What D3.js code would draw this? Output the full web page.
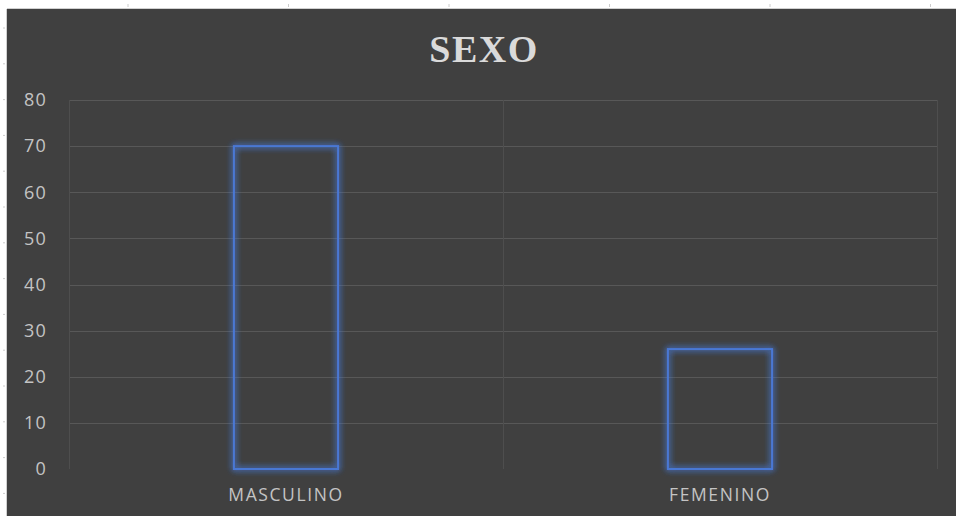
<!DOCTYPE html>
<html>
<head>
<meta charset="utf-8">
<script src="https://cdn.jsdelivr.net/npm/d3@7"></script>
<style>
  body { margin: 0; background: #ffffff; }
  svg { display: block; }
</style>
</head>
<body>
<div id="chart"></div>
<script>
let categories = ["MASCULINO", "FEMENINO"];
let values = [70, 26];
let yTicks = [0, 10, 20, 30, 40, 50, 60, 70, 80];
let title = "SEXO";

let W = 956, H = 516;
let margin = {top: 100, right: 19, bottom: 47, left: 69};
let width = W - margin.left - margin.right,
    height = H - margin.top - margin.bottom;

let svg = d3.select("#chart").append("svg")
    .attr("width", W)
    .attr("height", H);

// spreadsheet strip round the chart
svg.append("rect").attr("width", W).attr("height", H).attr("fill", "#ffffff");
svg.append("rect")
    .attr("x", 7).attr("y", 9)
    .attr("width", W - 7).attr("height", H - 9)
    .attr("fill", "#404040");
svg.append("line").attr("x1", 7).attr("x2", W).attr("y1", 8.5).attr("y2", 8.5)
    .style("stroke", "#d0d0d0");
svg.append("line").attr("x1", 6.5).attr("x2", 6.5).attr("y1", 9).attr("y2", H)
    .style("stroke", "#d0d0d0");
d3.range(128, W, 160.5).forEach(x => {
    svg.append("line").attr("x1", x).attr("x2", x).attr("y1", 4).attr("y2", 7)
        .style("stroke", "#cccccc");
});
d3.range(28, H, 35.8).forEach(y => {
    svg.append("line").attr("x1", 3).attr("x2", 5).attr("y1", y).attr("y2", y)
        .style("stroke", "#cccccc");
});

let defs = svg.append("defs");
let glow = defs.append("filter").attr("id", "glow")
    .attr("x", "-20%").attr("y", "-20%").attr("width", "140%").attr("height", "140%");
glow.append("feGaussianBlur").attr("in", "SourceGraphic").attr("stdDeviation", 3).attr("result", "blur");
let merge = glow.append("feMerge");
merge.append("feMergeNode").attr("in", "blur");
merge.append("feMergeNode").attr("in", "blur");
merge.append("feMergeNode").attr("in", "SourceGraphic");

let g = svg.append("g")
    .attr("transform", "translate(" + margin.left + "," + margin.top + ")");

let x = d3.scaleBand()
    .domain(categories)
    .range([0, width])
    .paddingInner(0)
    .paddingOuter(0);

let y = d3.scaleLinear()
    .domain([0, 80])
    .range([height, 0]);

// horizontal grid
g.append("g")
    .selectAll("line")
    .data(yTicks.filter(d => d > 0))
    .enter()
    .append("line")
    .attr("x1", 0).attr("x2", width)
    .attr("y1", d => Math.round(y(d)) + 0.5)
    .attr("y2", d => Math.round(y(d)) + 0.5)
    .style("stroke", "#585858")
    .style("stroke-width", 1);

// vertical grid at category edges
let edges = categories.map(c => x(c)).concat([width]);
g.append("g")
    .selectAll("line")
    .data(edges)
    .enter()
    .append("line")
    .attr("x1", d => Math.round(d) + 0.5).attr("x2", d => Math.round(d) + 0.5)
    .attr("y1", y(80)).attr("y2", y(0))
    .style("stroke", "#4e4e4e")
    .style("stroke-width", 1);

// y axis labels
let yAxis = g.append("g")
    .call(d3.axisLeft(y).tickValues(yTicks).tickSize(0).tickPadding(22));
yAxis.select(".domain").remove();
yAxis.selectAll("text")
    .style("font-family", "'Open Sans', sans-serif")
    .style("font-size", "18px")
    .style("letter-spacing", "1.2px")
    .style("fill", "#c4c4c4");

// x axis labels
let xAxis = g.append("g")
    .attr("transform", "translate(0," + height + ")")
    .call(d3.axisBottom(x).tickSize(0).tickPadding(20));
xAxis.select(".domain").remove();
xAxis.selectAll("text")
    .style("font-family", "'Open Sans', sans-serif")
    .style("font-size", "17.5px")
    .style("letter-spacing", "1.6px")
    .style("fill", "#c4c4c4");

// bars: outline only, with soft glow
let barW = x.bandwidth() * 0.24;
g.append("g")
    .selectAll("rect")
    .data(values)
    .enter()
    .append("rect")
    .attr("x", (d, i) => x(categories[i]) + (x.bandwidth() - barW) / 2)
    .attr("y", d => y(d))
    .attr("width", barW)
    .attr("height", d => y(0) - y(d))
    .style("fill", "none")
    .style("stroke", "#4a78d4")
    .style("stroke-width", 2)
    .attr("filter", "url(#glow)");

// title
svg.append("text")
    .attr("x", 484)
    .attr("y", 62)
    .attr("text-anchor", "middle")
    .style("font-family", "'Liberation Serif', 'Times New Roman', serif")
    .style("font-weight", "bold")
    .style("font-size", "38px")
    .style("letter-spacing", "1.5px")
    .style("fill", "#dadada")
    .text(title);
</script>
</body>
</html>
